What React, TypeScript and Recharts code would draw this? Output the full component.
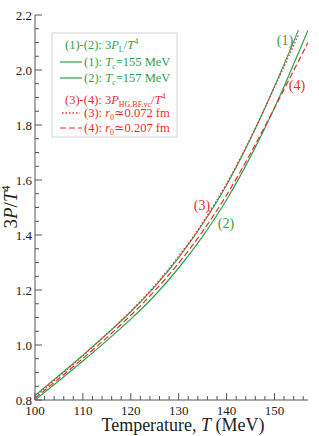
import { LineChart, Line, XAxis, YAxis } from "recharts"

// temperatures (MeV) and 3P/T^4
const tempsA = [100, 105, 110, 115, 120, 125, 130, 135, 140, 145, 150, 155]
const tempsB = [100, 105, 110, 115, 120, 125, 130, 135, 140, 145, 150, 155, 157]

const pressure1 = [0.816, 0.889, 0.963, 1.04, 1.121, 1.212, 1.318, 1.44, 1.582, 1.75, 1.94, 2.145]
const pressure2 = [0.8, 0.87, 0.942, 1.016, 1.094, 1.18, 1.28, 1.395, 1.528, 1.685, 1.862, 2.062, 2.145]
const pressure3 = [0.812, 0.886, 0.961, 1.04, 1.123, 1.216, 1.323, 1.445, 1.587, 1.752, 1.937, 2.128]
const pressure4 = [0.806, 0.878, 0.951, 1.027, 1.108, 1.197, 1.298, 1.413, 1.545, 1.697, 1.862, 2.032, 2.1]

const xTicks = [100, 102, 104, 106, 108, 110, 112, 114, 116, 118, 120, 122, 124, 126, 128, 130, 132, 134, 136, 138, 140, 142, 144, 146, 148, 150, 152, 154, 156]
const yTicks = [0.8, 0.85, 0.9, 0.95, 1.0, 1.05, 1.1, 1.15, 1.2, 1.25, 1.3, 1.35, 1.4, 1.45, 1.5, 1.55, 1.6, 1.65, 1.7, 1.75, 1.8, 1.85, 1.9, 1.95, 2.0, 2.05, 2.1, 2.15, 2.2]

const toRows = (ts: number[], vs: number[]) => ts.map((T, i) => ({ T, v: vs[i] }))

const GREEN = "#2ea24a"
const RED = "#ee2a2a"
const FRAME = "#555"
const FONT = "'Liberation Serif', 'DejaVu Serif', serif"

const isMajorX = (v: number) => v % 10 === 0
const isMajorY = (v: number) => Math.abs(v * 5 - Math.round(v * 5)) < 1e-6

function BottomTick(props: any) {
    const { x, y, payload } = props
    const major = isMajorX(payload.value)
    return <g>
        <line x1={x} x2={x} y1={y} y2={y - (major ? 7 : 4)} stroke={FRAME} />
        {major && <text x={x} y={y + 15} textAnchor="middle" fontSize={13} fontFamily={FONT} fill="#222">{payload.value}</text>}
    </g>
}

function TopTick(props: any) {
    const { x, y, payload } = props
    const major = isMajorX(payload.value)
    return <line x1={x} x2={x} y1={y} y2={y + (major ? 7 : 4)} stroke={FRAME} />
}

function LeftTick(props: any) {
    const { x, y, payload } = props
    const major = isMajorY(payload.value)
    return <g>
        <line x1={x} x2={x + (major ? 7 : 4)} y1={y} y2={y} stroke={FRAME} />
        {major && <text x={x - 3} y={y} dy="0.35em" textAnchor="end" fontSize={13} fontFamily={FONT} fill="#222">{payload.value.toFixed(1)}</text>}
    </g>
}

function RightTick(props: any) {
    const { x, y, payload } = props
    const major = isMajorY(payload.value)
    return <line x1={x} x2={x - (major ? 7 : 4)} y1={y} y2={y} stroke={FRAME} />
}

export default function App() {
    return <div style={{ position: "absolute", left: 0, top: 0, width: 319, height: 436, fontFamily: FONT }}>
        <LineChart width={319} height={436} margin={{ top: 15, right: 11, bottom: 0, left: 0 }}>
            <XAxis xAxisId="b" type="number" dataKey="T" domain={[100, 157]} ticks={xTicks} interval={0}
                height={36} tickSize={0} tickMargin={0} tickLine={false} axisLine={{ stroke: FRAME }} tick={BottomTick} allowDataOverflow />
            <XAxis xAxisId="t" orientation="top" type="number" dataKey="T" domain={[100, 157]} ticks={xTicks} interval={0}
                height={0} tickSize={0} tickMargin={0} tickLine={false} axisLine={{ stroke: FRAME }} tick={TopTick} allowDataOverflow />
            <YAxis yAxisId="l" type="number" domain={[0.8, 2.2]} ticks={yTicks} interval={0}
                width={35} tickSize={0} tickMargin={0} tickLine={false} axisLine={{ stroke: FRAME }} tick={LeftTick} allowDataOverflow />
            <YAxis yAxisId="r" orientation="right" type="number" domain={[0.8, 2.2]} ticks={yTicks} interval={0}
                width={0} tickSize={0} tickMargin={0} tickLine={false} axisLine={{ stroke: FRAME }} tick={RightTick} allowDataOverflow />

            <Line xAxisId="b" yAxisId="l" data={toRows(tempsA, pressure1)} dataKey="v" type="monotone" stroke={GREEN} strokeWidth={1.2} dot={false} isAnimationActive={false} />
            <Line xAxisId="b" yAxisId="l" data={toRows(tempsB, pressure2)} dataKey="v" type="monotone" stroke={GREEN} strokeWidth={1.2} dot={false} isAnimationActive={false} />
            <Line xAxisId="b" yAxisId="l" data={toRows(tempsA, pressure3)} dataKey="v" type="monotone" stroke={RED} strokeWidth={1.3} strokeDasharray="1.5 2" dot={false} isAnimationActive={false} />
            <Line xAxisId="b" yAxisId="l" data={toRows(tempsB, pressure4)} dataKey="v" type="monotone" stroke={RED} strokeWidth={1.2} strokeDasharray="6 3" dot={false} isAnimationActive={false} />

            {/* axis titles */}
            <text x={183} y={431} textAnchor="middle" fontSize={18} fontFamily={FONT} fill="#222">
                Temperature, <tspan fontStyle="italic">T</tspan> (MeV)
            </text>
            <text transform="translate(17,207) rotate(-90)" textAnchor="middle" fontSize={19} fontFamily={FONT} fill="#222">
                3<tspan fontStyle="italic">P</tspan>/<tspan fontStyle="italic">T</tspan><tspan fontSize={12} dy={-7}>4</tspan>
            </text>

            {/* curve labels */}
            <text x={285} y={45} textAnchor="middle" fontSize={14} fontFamily={FONT} fill={GREEN}>(1)</text>
            <text x={226} y={228} textAnchor="middle" fontSize={14} fontFamily={FONT} fill={GREEN}>(2)</text>
            <text x={202} y={210} textAnchor="middle" fontSize={14} fontFamily={FONT} fill={RED}>(3)</text>
            <text x={297} y={90} textAnchor="middle" fontSize={14} fontFamily={FONT} fill={RED}>(4)</text>

            {/* legend */}
            <g fontFamily={FONT} fontSize={12.5}>
                <rect x={52} y={33} width={125} height={104} fill="#fff" stroke="#d4d4d4" />
                <text x={65} y={49} fill={GREEN}>
                    (1)-(2): 3<tspan fontStyle="italic">P</tspan><tspan fontSize={8} dy={3}>L</tspan><tspan dy={-3}>/</tspan><tspan fontStyle="italic">T</tspan><tspan fontSize={8} dy={-5}>4</tspan>
                </text>
                <line x1={60} x2={82} y1={62} y2={62} stroke={GREEN} strokeWidth={1.2} />
                <text x={84} y={66} fill={GREEN}>
                    (1): <tspan fontStyle="italic">T</tspan><tspan fontSize={8} dy={3} fontStyle="italic">c</tspan><tspan dy={-3}>=155 MeV</tspan>
                </text>
                <line x1={60} x2={82} y1={78} y2={78} stroke={GREEN} strokeWidth={1.2} />
                <text x={84} y={82} fill={GREEN}>
                    (2): <tspan fontStyle="italic">T</tspan><tspan fontSize={8} dy={3} fontStyle="italic">c</tspan><tspan dy={-3}>=157 MeV</tspan>
                </text>
                <text x={65} y={104} fill={RED}>
                    (3)-(4): 3<tspan fontStyle="italic">P</tspan><tspan fontSize={8} dy={3}>HG,BF,vc</tspan><tspan dy={-3}>/</tspan><tspan fontStyle="italic">T</tspan><tspan fontSize={8} dy={-5}>4</tspan>
                </text>
                <line x1={62} x2={80} y1={113} y2={113} stroke={RED} strokeWidth={1.3} strokeDasharray="1.5 2" />
                <text x={84} y={117} fill={RED}>
                    (3): <tspan fontStyle="italic">r</tspan><tspan fontSize={8} dy={3}>0</tspan><tspan dy={-3}>≃0.072 fm</tspan>
                </text>
                <line x1={60} x2={82} y1={128} y2={128} stroke={RED} strokeWidth={1.2} strokeDasharray="6 3" />
                <text x={84} y={132} fill={RED}>
                    (4): <tspan fontStyle="italic">r</tspan><tspan fontSize={8} dy={3}>0</tspan><tspan dy={-3}>≃0.207 fm</tspan>
                </text>
            </g>
        </LineChart>
    </div>
}
